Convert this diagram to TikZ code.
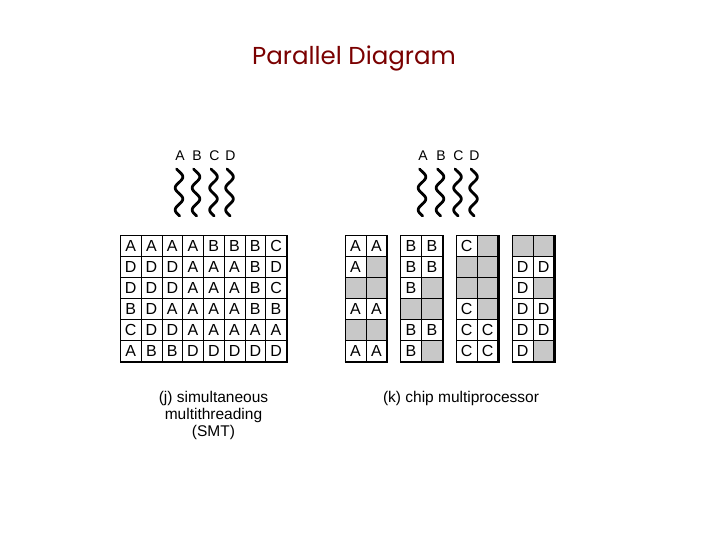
\documentclass[tikz,border=0pt]{standalone}
\usepackage{fontspec}
\setmainfont{Liberation Sans}
\newfontfamily\titlefont{Poppins}
\definecolor{titlered}{RGB}{122,0,0}
\definecolor{cellgray}{RGB}{200,200,200}
\begin{document}
\begin{tikzpicture}[x=1pt,y=-1pt,
  cell/.style={draw, line width=0.8pt, minimum width=#1, minimum height=21pt,
    inner sep=0pt, anchor=north west, font=\fontsize{16}{16}\selectfont},
  cell/.default=20.75pt,
  grayc/.style={cell=21pt, fill=cellgray},
  frame/.style={line width=2.2pt},
  threadlbl/.style={font=\fontsize{14}{14}\selectfont, inner sep=0pt},
  squig/.style={line width=2.8pt, line cap=round},
  caption/.style={font=\fontsize{15.5}{16.8}\selectfont, align=center, inner sep=0pt, anchor=north},
  title/.style={font=\titlefont\fontsize{24.5}{24.5}\selectfont, text=titlered, inner sep=0pt}]
\useasboundingbox (0,0) rectangle (720,540);

% title
\node[title] (title) at (354,58) {Parallel Diagram};

% left grid (SMT)
\foreach \row [count=\r from 0] in {{A,A,A,A,B,B,B,C},{D,D,D,A,A,A,B,D},{D,D,D,A,A,A,B,C},{B,D,A,A,A,A,B,B},{C,D,D,A,A,A,A,A},{A,B,B,D,D,D,D,D}}{
  \foreach \l [count=\c from 0] in \row {
    \node[cell] (L-\r-\c) at ({120+\c*20.75},{235+\r*21}) {\l};
  }
}
\draw[frame] (L-5-0.south west) -- (L-5-7.south east) -- (L-0-7.north east);

% right grids (CMP)
\foreach \g/\gx/\rows in {
  1/344.5/{{A,A},{A,G},{G,G},{A,A},{G,G},{A,A}},
  2/400/{{B,B},{B,B},{B,G},{G,G},{B,B},{B,G}},
  3/455.7/{{C,G},{G,G},{G,G},{C,G},{C,C},{C,C}},
  4/511.7/{{G,G},{D,D},{D,G},{D,D},{D,D},{D,G}}}{
  \foreach \row [count=\r from 0] in \rows {
    \foreach \l [count=\c from 0] in \row {
      \if\l G
        \node[grayc] (R\g-\r-\c) at ({\gx+\c*21},{235+\r*21}) {};
      \else
        \node[cell=21pt] (R\g-\r-\c) at ({\gx+\c*21},{235+\r*21}) {\l};
      \fi
    }
  }
  \draw[frame] (R\g-5-0.south west) -- (R\g-5-1.south east) -- (R\g-0-1.north east);
}

% threads
\foreach \n/\px in {A/180,B/197,C/214.5,D/230.5}{
  \node[threadlbl] (tl\n) at (\px,156) {\n};
  \draw[squig] plot[domain=0:1,samples=70,smooth] ({\px-1+3.8*sin(-40+770*\x)},{169+47*\x});
}
\foreach \n/\px in {A/423,B/441,C/458.5,D/474.5}{
  \node[threadlbl] (tr\n) at (\px,156) {\n};
  \draw[squig] plot[domain=0:1,samples=70,smooth] ({\px-1+3.8*sin(-40+770*\x)},{169+47*\x});
}

% captions
\node[caption] (capj) at (213.5,391) {(j) simultaneous\\multithreading\\(SMT)};
\node[caption] (capk) at (461,391) {(k) chip multiprocessor};
\end{tikzpicture}
\end{document}
